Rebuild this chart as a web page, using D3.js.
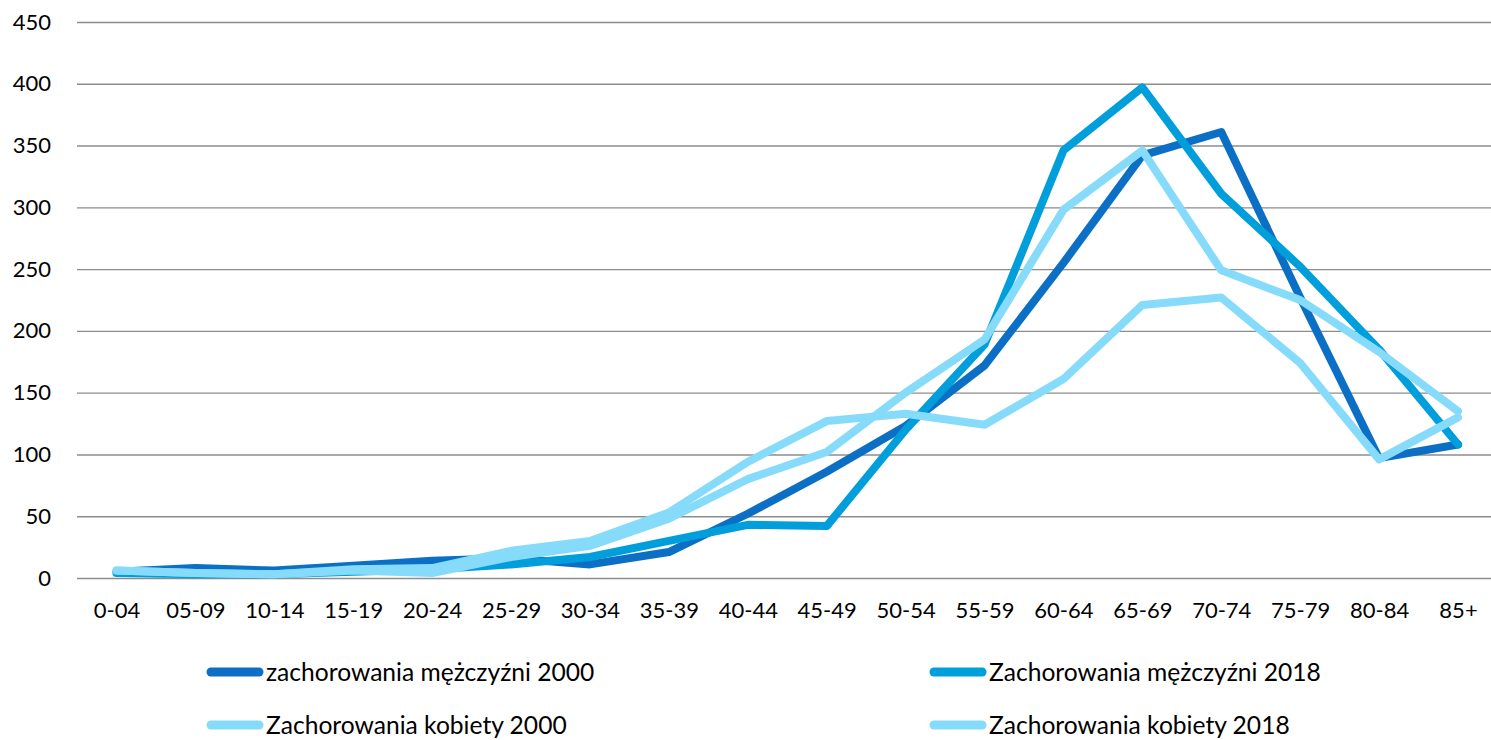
<!DOCTYPE html>
<html>
<head>
<meta charset="utf-8">
<script src="https://cdn.jsdelivr.net/npm/d3@7"></script>
<style>
  html, body { margin: 0; padding: 0; background: #fff; }
  svg { display: block; font-family: Lato, "Open Sans", sans-serif; }
</style>
</head>
<body>
<svg id="chart" width="1491" height="740"></svg>
<script>
const categories = ["0-04","05-09","10-14","15-19","20-24","25-29","30-34","35-39","40-44","45-49","50-54","55-59","60-64","65-69","70-74","75-79","80-84","85+"];
const mezczyzni2000 = [5, 8, 6, 10, 14, 16, 11, 21, 52, 86, 123, 172, 255, 342, 361, 227, 97, 108];
const mezczyzni2018 = [4, 3, 3, 5, 7, 11, 17, 30, 43, 42, 120, 189, 346, 397, 311, 252, 185, 108];
const kobiety2000 = [6, 4, 3, 7, 8, 22, 30, 53, 94, 127, 133, 124, 161, 221, 227, 174, 96, 130];
const kobiety2018 = [6, 4, 3, 6, 4, 17, 26, 48, 80, 102, 150, 193, 298, 346, 249, 225, 183, 135];
const seriesNames = ["zachorowania mężczyźni 2000", "Zachorowania mężczyźni 2018", "Zachorowania kobiety 2000", "Zachorowania kobiety 2018"];
const seriesColors = ["#0B70C5", "#009FDB", "#87DBFA", "#87DBFA"];
const yTicks = [0, 50, 100, 150, 200, 250, 300, 350, 400, 450];

const seriesValues = [mezczyzni2000, mezczyzni2018, kobiety2000, kobiety2018];
const series = seriesNames.map((name, i) => ({ name, color: seriesColors[i], values: seriesValues[i] }));

const svg = d3.select("#chart");
const plotLeft = 77, plotRight = 1491, plotTop = 22, plotBottom = 578;

const x = d3.scalePoint().domain(categories).range([116.5, 1458]);
const y = d3.scaleLinear().domain([0, 450]).range([plotBottom, plotTop]);

// gridlines
const grid = svg.append("g")
  .attr("transform", `translate(${plotLeft},0)`)
  .call(d3.axisRight(y).tickValues(yTicks).tickSize(plotRight - plotLeft).tickFormat(""));
grid.select(".domain").remove();
grid.selectAll("line").attr("stroke", "#8c8c8c").attr("stroke-width", 1.4);

// y axis labels
const yAxis = svg.append("g")
  .attr("transform", `translate(${plotLeft},0)`)
  .call(d3.axisLeft(y).tickValues(yTicks).tickSize(0).tickPadding(26));
yAxis.select(".domain").remove();
yAxis.selectAll("text").attr("font-size", 22).attr("fill", "#000").attr("font-family", "Lato, sans-serif");

// x axis labels
const xAxis = svg.append("g")
  .attr("transform", `translate(0,${plotBottom})`)
  .call(d3.axisBottom(x).tickSize(0).tickPadding(24));
xAxis.select(".domain").remove();
xAxis.selectAll("text").attr("font-size", 22).attr("fill", "#000").attr("font-family", "Lato, sans-serif");

// lines
const line = d3.line()
  .x((d, i) => x(categories[i]))
  .y(d => y(d));

svg.append("g").selectAll("path")
  .data(series)
  .join("path")
  .attr("d", d => line(d.values))
  .attr("fill", "none")
  .attr("stroke", d => d.color)
  .attr("stroke-width", 8)
  .attr("stroke-linejoin", "round")
  .attr("stroke-linecap", "round");

// legend
const legendPos = [
  { sx: 211, ty: 672 },
  { sx: 934, ty: 672 },
  { sx: 211, ty: 725 },
  { sx: 934, ty: 725 }
];
const legend = svg.append("g").selectAll("g")
  .data(series)
  .join("g")
  .attr("transform", (d, i) => `translate(${legendPos[i].sx},${legendPos[i].ty})`);
legend.append("line")
  .attr("x1", 0).attr("x2", 48)
  .attr("y1", 0).attr("y2", 0)
  .attr("stroke", d => d.color)
  .attr("stroke-width", 9)
  .attr("stroke-linecap", "round");
legend.append("text")
  .attr("x", 55)
  .attr("y", 0)
  .attr("dy", "0.35em")
  .attr("font-size", 24.6)
  .attr("fill", "#000")
  .text(d => d.name);
</script>
</body>
</html>
